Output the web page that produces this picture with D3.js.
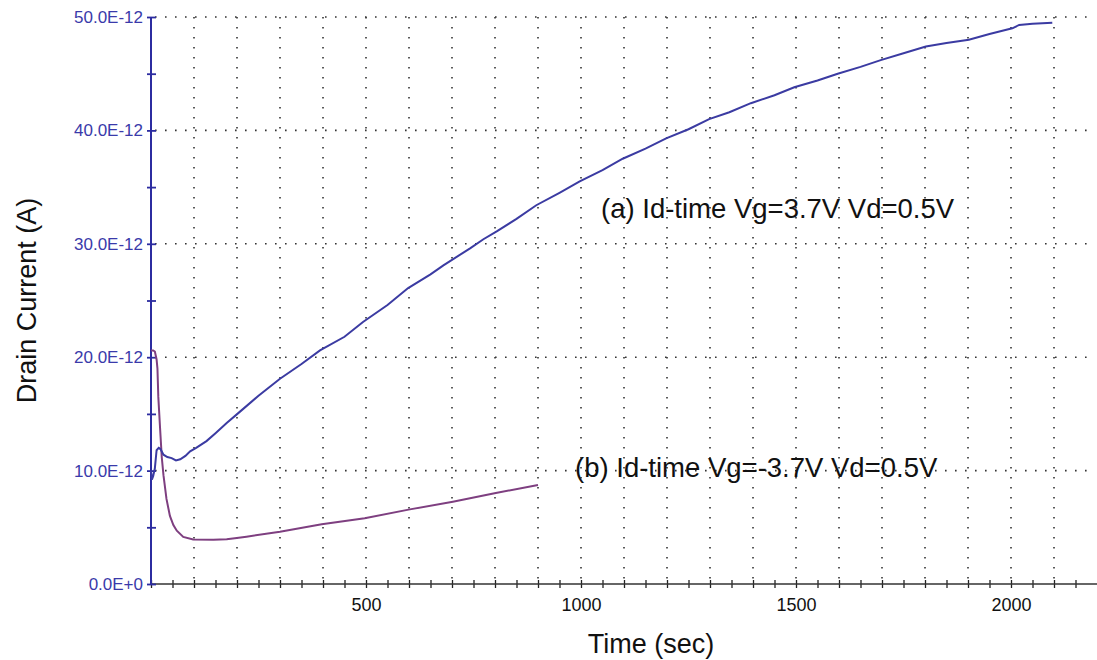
<!DOCTYPE html>
<html>
<head>
<meta charset="utf-8">
<script src="https://cdn.jsdelivr.net/npm/d3@7"></script>
<style>
  html, body { margin: 0; padding: 0; background: #fff; }
  svg { display: block; font-family: "Liberation Sans", Arial, sans-serif; }
</style>
</head>
<body>
<svg id="chart" width="1097" height="660"></svg>
<script>
// Drain current vs. time, two gate-bias conditions (values in pA, time in s)
const timeA = [0, 2, 5, 9, 13, 18, 22, 29, 38, 48, 58, 68, 80, 91, 105, 129, 150, 176, 207, 250, 300, 350, 393, 450, 493, 550, 598, 650, 680, 742, 773, 804, 850, 896, 950, 997, 1050, 1097, 1150, 1198, 1250, 1298, 1345, 1395, 1450, 1496, 1550, 1597, 1650, 1697, 1750, 1802, 1850, 1902, 1950, 2003, 2019, 2050, 2096];
const currentA = [10.0, 9.2, 9.5, 10.2, 11.8, 12.0, 11.9, 11.4, 11.2, 11.1, 10.9, 11.0, 11.3, 11.7, 12.0, 12.6, 13.3, 14.2, 15.2, 16.6, 18.1, 19.4, 20.6, 21.8, 23.1, 24.6, 26.1, 27.3, 28.1, 29.6, 30.4, 31.1, 32.2, 33.4, 34.5, 35.5, 36.5, 37.5, 38.4, 39.3, 40.1, 41.0, 41.6, 42.4, 43.1, 43.8, 44.4, 45.0, 45.6, 46.2, 46.8, 47.4, 47.7, 48.0, 48.5, 49.0, 49.3, 49.4, 49.5];

const timeB = [0, 5, 9, 13, 15, 17, 21, 25, 29, 36, 44, 52, 60, 75, 98, 145, 176, 195, 222, 300, 397, 497, 602, 702, 799, 900];
const currentB = [20.6, 20.6, 20.5, 19.8, 19.0, 16.5, 13.8, 11.2, 9.6, 7.5, 6.0, 5.2, 4.7, 4.15, 3.92, 3.9, 3.94, 4.03, 4.17, 4.61, 5.26, 5.79, 6.58, 7.26, 8.0, 8.73];

const yTickValues = [0, 10, 20, 30, 40, 50];
const yTickLabels = ["0.0E+0", "10.0E-12", "20.0E-12", "30.0E-12", "40.0E-12", "50.0E-12"];
const xTickValues = [500, 1000, 1500, 2000];
const xTickLabels = ["500", "1000", "1500", "2000"];

const labelA = "(a) Id-time Vg=3.7V Vd=0.5V";
const labelB = "(b) Id-time Vg=-3.7V Vd=0.5V";
const xTitle = "Time (sec)";
const yTitle = "Drain Current (A)";

const svg = d3.select("#chart");
const W = 1097, H = 660;
const plotLeft = 151, plotRight = W, plotTop = 17, plotBottom = 584;

const x = d3.scaleLinear().domain([0, 2200]).range([plotLeft, plotRight]);
const y = d3.scaleLinear().domain([0, 50]).range([plotBottom, plotTop]);

// dotted grid
const grid = svg.append("g").attr("stroke", "#333").attr("stroke-width", 1.6)
  .attr("stroke-dasharray", "1.6 8.4").attr("fill", "none");
d3.range(100, 2101, 100).forEach(t => {
  grid.append("line").attr("x1", x(t)).attr("x2", x(t))
    .attr("y1", y(50)).attr("y2", y(0));
});
d3.range(10, 51, 10).forEach(v => {
  grid.append("line").attr("x1", x(0) + 4).attr("x2", W - 4)
    .attr("y1", y(v)).attr("y2", y(v));
});

// x axis (dark) with ticks every 50 s crossing the line
const xAxis = svg.append("g").attr("transform", `translate(0,${y(0)})`)
  .call(d3.axisBottom(x).tickValues(d3.range(0, 2200, 50)).tickSize(4).tickFormat(""));
xAxis.select(".domain").remove();
xAxis.selectAll(".tick line").attr("y1", -4).attr("y2", 4).attr("stroke", "#222").attr("stroke-width", 1.3);
svg.append("line").attr("x1", x(0)).attr("x2", W).attr("y1", y(0)).attr("y2", y(0))
  .attr("stroke", "#333").attr("stroke-width", 1.6);

const xLab = svg.append("g").attr("transform", `translate(0,${y(0)})`)
  .call(d3.axisBottom(x).tickValues(xTickValues).tickSize(0)
    .tickFormat((d, i) => xTickLabels[i]));
xLab.select(".domain").remove();
xLab.selectAll("text").attr("dy", null).attr("y", 27).attr("fill", "#111")
  .style("font-size", "18px").style("font-family", "'Liberation Sans', Arial, sans-serif");

// y axis (blue) with ticks every 5 pA crossing the line
const blue = "#2c2ca0";
const yAxis = svg.append("g").attr("transform", `translate(${x(0)},0)`)
  .call(d3.axisLeft(y).tickValues(d3.range(0, 51, 5)).tickSize(4).tickFormat(""));
yAxis.select(".domain").remove();
yAxis.selectAll(".tick line").attr("x1", -4).attr("x2", 5).attr("stroke", blue).attr("stroke-width", 1.8);
svg.append("line").attr("x1", x(0)).attr("x2", x(0)).attr("y1", y(50)).attr("y2", y(0))
  .attr("stroke", blue).attr("stroke-width", 2);

const yLab = svg.append("g").attr("transform", `translate(${x(0)},0)`)
  .call(d3.axisLeft(y).tickValues(yTickValues).tickSize(0)
    .tickFormat((d, i) => yTickLabels[i]));
yLab.select(".domain").remove();
yLab.selectAll("text").attr("x", -8).attr("fill", "#3a3aaa")
  .style("font-size", "17px").style("font-family", "'Liberation Sans', Arial, sans-serif");

// curves
const line = d3.line().x(d => x(d[0])).y(d => y(d[1]));
svg.append("path").datum(timeB.map((t, i) => [t, currentB[i]]))
  .attr("d", line).attr("fill", "none").attr("stroke", "#7e3f80").attr("stroke-width", 2);
svg.append("path").datum(timeA.map((t, i) => [t, currentA[i]]))
  .attr("d", line).attr("fill", "none").attr("stroke", "#3b3ba2").attr("stroke-width", 2);

// annotations
svg.append("text").attr("x", 601).attr("y", 218).attr("fill", "#111")
  .style("font-size", "27.5px").text(labelA);
svg.append("text").attr("x", 575).attr("y", 477).attr("fill", "#111")
  .style("font-size", "27.5px").text(labelB);

// axis titles
svg.append("text").attr("x", 651).attr("y", 653).attr("text-anchor", "middle")
  .attr("fill", "#111").style("font-size", "27px").text(xTitle);
svg.append("text").attr("transform", `translate(36,${(plotTop + plotBottom) / 2}) rotate(-90)`)
  .attr("text-anchor", "middle").attr("fill", "#111").style("font-size", "27px").text(yTitle);
</script>
</body>
</html>
